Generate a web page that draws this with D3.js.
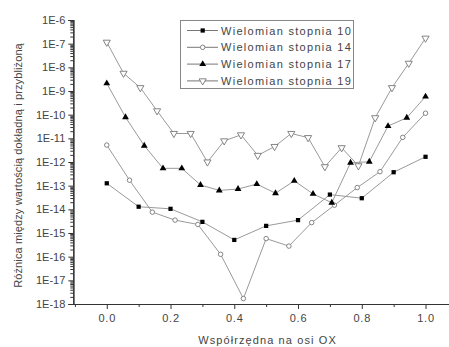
<!DOCTYPE html>
<html><head><meta charset="utf-8">
<script src="https://cdn.jsdelivr.net/npm/d3@7"></script>
<style>
html,body{margin:0;padding:0;background:#fff;}
svg{display:block;font-family:"Liberation Sans",Arial,sans-serif;}
</style></head>
<body><svg id="c" width="449" height="347"></svg>
<script>
const seriesNames = ["Wielomian stopnia 10","Wielomian stopnia 14","Wielomian stopnia 17","Wielomian stopnia 19"];
const x10 = [0,0.1,0.2,0.3,0.4,0.5,0.6,0.7,0.8,0.9,1.0];
const y10 = [1.26e-13,1.29e-14,1.05e-14,2.95e-15,5.1e-16,2.0e-15,3.5e-15,4.2e-14,2.95e-14,3.7e-13,1.66e-12];
const x14 = [0,0.0714,0.1429,0.2143,0.2857,0.3571,0.4286,0.5,0.5714,0.6429,0.7143,0.7857,0.8571,0.9286,1.0];
const y14 = [5.2e-12,1.7e-13,7.6e-15,3.5e-15,2.3e-15,1.26e-16,1.7e-18,5.8e-16,2.8e-16,2.75e-15,1.5e-14,8.3e-14,3.9e-13,1.1e-11,1.15e-10];
const x17 = [0,0.0588,0.1176,0.1765,0.2353,0.2941,0.3529,0.4118,0.4706,0.5294,0.5882,0.6471,0.7059,0.7647,0.8235,0.8824,0.9412,1.0];
const y17 = [2.1e-9,7.8e-11,4.9e-12,5.4e-13,5.4e-13,1.07e-13,6.3e-14,7.2e-14,1.17e-13,4.8e-14,1.6e-13,4.5e-14,1.9e-14,9.3e-13,1.02e-12,3.3e-11,7.4e-11,5.8e-10];
const x19 = [0,0.0526,0.1053,0.1579,0.2105,0.2632,0.3158,0.3684,0.4211,0.4737,0.5263,0.5789,0.6316,0.6842,0.7368,0.7895,0.8421,0.8947,0.9474,1.0];
const y19 = [1.15e-7,5.6e-9,1.38e-9,1.45e-10,1.6e-11,1.6e-11,1.0e-12,7.8e-12,1.4e-11,1.9e-12,4.5e-12,1.6e-11,1.07e-11,6.3e-13,4.0e-12,6.9e-13,7.4e-11,1.38e-9,1.48e-8,1.7e-7];
const xTicks = [0,0.2,0.4,0.6,0.8,1.0];
const xTickLabels = ["0.0","0.2","0.4","0.6","0.8","1.0"];
const xMinor = [-0.1,0.1,0.3,0.5,0.7,0.9,1.1];
const yTicks = [1e-18,1e-17,1e-16,1e-15,1e-14,1e-13,1e-12,1e-11,1e-10,1e-9,1e-8,1e-7,1e-6];
const yTickLabels = ["1E-18","1E-17","1E-16","1E-15","1E-14","1E-13","1E-12","1E-11","1E-10","1E-9","1E-8","1E-7","1E-6"];
const xTitle = "Współrzędna na osi OX";
const yTitle = "Różnica między wartością dokładną i przybliżoną";

const svg = d3.select("#c");
const x = d3.scaleLinear().domain([-0.105, 1.105]).range([73.3, 459]);
const y = d3.scaleLog().domain([1e-18, 1e-6]).range([304, 20]);
const axisCol = "#333", textCol = "#444", lineCol = "#9a9a9a";

// Y minor ticks
const yMinor = [];
for (let e = -18; e < -6; e++) for (let k = 2; k <= 9; k++) yMinor.push(k * Math.pow(10, e));
const gy = svg.append("g").attr("transform", `translate(${x.range()[0]},0)`);
gy.call(d3.axisLeft(y).tickValues(yMinor).tickSize(3).tickFormat(""));
gy.append("g").call(d3.axisLeft(y).tickValues(yTicks).tickSize(5).tickPadding(3)
  .tickFormat((d,i)=>yTickLabels[i]));
gy.selectAll("path.domain").attr("stroke", axisCol).attr("stroke-width",1.2);
gy.selectAll(".tick line").attr("stroke", axisCol);
gy.selectAll(".tick text").attr("fill", textCol).attr("font-size", 11)
  .attr("font-family","Liberation Sans, Arial, sans-serif");

const gx = svg.append("g").attr("transform", `translate(0,${y.range()[0]})`);
gx.call(d3.axisBottom(x).tickValues(xMinor).tickSize(3).tickFormat("").tickSizeOuter(0));
gx.append("g").call(d3.axisBottom(x).tickValues(xTicks).tickSize(5).tickPadding(5).tickSizeOuter(0)
  .tickFormat((d,i)=>xTickLabels[i]));
gx.selectAll("path.domain").attr("stroke", axisCol).attr("stroke-width",1.2);
gx.selectAll(".tick line").attr("stroke", axisCol);
gx.selectAll(".tick text").attr("fill", textCol).attr("font-size", 11)
  .attr("font-family","Liberation Sans, Arial, sans-serif").attr("letter-spacing","0.8px");

// titles
svg.append("text").attr("x", 267.5).attr("y", 344).attr("text-anchor","middle")
  .attr("font-size", 11).attr("letter-spacing","1.1px").attr("fill", textCol).text(xTitle);
svg.append("text").attr("transform","translate(22,165.5) rotate(-90)").attr("text-anchor","middle")
  .attr("font-size", 11).attr("letter-spacing","0.12px").attr("fill", textCol).text(yTitle);

const series = [
  {xs:x10, ys:y10, sym:d3.symbolSquare, size:18, fill:"#000", stroke:"none", rot:0},
  {xs:x14, ys:y14, sym:d3.symbolCircle, size:16, fill:"#fff", stroke:"#777", rot:0},
  {xs:x17, ys:y17, sym:d3.symbolTriangle, size:20, fill:"#000", stroke:"none", rot:0},
  {xs:x19, ys:y19, sym:d3.symbolTriangle, size:22, fill:"#fff", stroke:"#777", rot:180},
];
const line = d3.line().x(d=>x(d[0])).y(d=>y(d[1]));
series.forEach(s=>{
  const pts = s.xs.map((v,i)=>[v, s.ys[i]]);
  svg.append("path").attr("d", line(pts)).attr("fill","none").attr("stroke", lineCol).attr("stroke-width",1);
});
series.forEach(s=>{
  const pts = s.xs.map((v,i)=>[v, s.ys[i]]);
  svg.append("g").selectAll("path").data(pts).join("path")
    .attr("d", d3.symbol().type(s.sym).size(s.size))
    .attr("transform", d=>`translate(${x(d[0])},${y(d[1])}) rotate(${s.rot})`)
    .attr("fill", s.fill).attr("stroke", s.stroke).attr("stroke-width", 0.9);
});

// legend
const lg = svg.append("g");
lg.append("rect").attr("x",180.5).attr("y",20.5).attr("width",173).attr("height",68)
  .attr("fill","#fff").attr("stroke","#888").attr("stroke-width",1);
const rowY = [30.5, 47.3, 64.1, 80.9];
series.forEach((s,i)=>{
  lg.append("line").attr("x1",187).attr("x2",218).attr("y1",rowY[i]).attr("y2",rowY[i])
    .attr("stroke", "#777").attr("stroke-width",1);
  lg.append("path").attr("d", d3.symbol().type(s.sym).size(s.size))
    .attr("transform", `translate(202.7,${rowY[i]}) rotate(${s.rot})`)
    .attr("fill", s.fill).attr("stroke", s.stroke).attr("stroke-width",0.9);
  lg.append("text").attr("x",221).attr("y",rowY[i]+4).attr("font-size",11)
    .attr("letter-spacing","1.3px").attr("fill", textCol).text(seriesNames[i]);
});
</script></body></html>
